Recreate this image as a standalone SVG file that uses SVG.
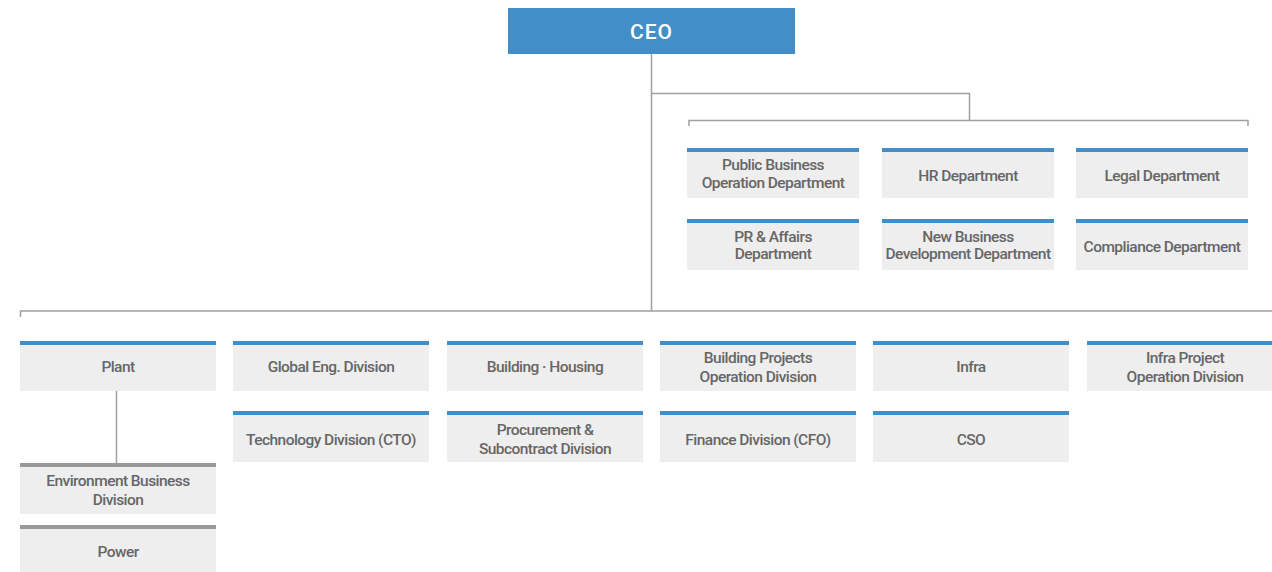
<svg xmlns="http://www.w3.org/2000/svg" width="1272" height="572" viewBox="0 0 1272 572">
<style>
.box{fill:#eeeeee}
.bar{fill:#428ec9}
.gbar{fill:#999999}
.t{font-family:Roboto,"Liberation Sans",sans-serif;font-size:15.5px;font-weight:500;fill:#666666;text-anchor:middle;dominant-baseline:central;letter-spacing:-0.55px}
.ln{stroke:#a0a0a0;stroke-width:1.5;fill:none}
</style>
<rect width="1272" height="572" fill="#ffffff"/>
<g id="connectors">
<path class="ln" d="M651.5,54 V311"/>
<path class="ln" d="M651.5,93.5 H969.5 V120.5"/>
<path class="ln" d="M689,126 V120.5 H1248 V126"/>
<path class="ln" d="M20.5,317 V311 H1272"/>
<path class="ln" d="M116.5,391 V463"/>
</g>
<g id="ceo">
<rect x="508" y="8" width="287" height="46" class="bar"/>
<text x="651.5" y="32" font-family="Roboto,'Liberation Sans',sans-serif" font-size="21" font-weight="500" fill="#ffffff" text-anchor="middle" dominant-baseline="central" letter-spacing="1">CEO</text>
</g>
<g id="public-business">
<rect x="687" y="148" width="172" height="50" class="box"/><rect x="687" y="148" width="172" height="4" class="bar"/>
<text class="t" x="773" y="165">Public Business</text><text class="t" x="773" y="183">Operation Department</text>
</g>
<g id="hr">
<rect x="882" y="148" width="172" height="50" class="box"/><rect x="882" y="148" width="172" height="4" class="bar"/>
<text class="t" x="968" y="176">HR Department</text>
</g>
<g id="legal">
<rect x="1076" y="148" width="172" height="50" class="box"/><rect x="1076" y="148" width="172" height="4" class="bar"/>
<text class="t" x="1162" y="176">Legal Department</text>
</g>
<g id="pr">
<rect x="687" y="219" width="172" height="51" class="box"/><rect x="687" y="219" width="172" height="4" class="bar"/>
<text class="t" x="773" y="237">PR &amp; Affairs</text><text class="t" x="773" y="254">Department</text>
</g>
<g id="new-business">
<rect x="882" y="219" width="172" height="51" class="box"/><rect x="882" y="219" width="172" height="4" class="bar"/>
<text class="t" x="968" y="237">New Business</text><text class="t" x="968" y="254">Development Department</text>
</g>
<g id="compliance">
<rect x="1076" y="219" width="172" height="51" class="box"/><rect x="1076" y="219" width="172" height="4" class="bar"/>
<text class="t" x="1162" y="247">Compliance Department</text>
</g>
<g id="plant">
<rect x="20" y="341" width="196" height="50" class="box"/><rect x="20" y="341" width="196" height="4" class="bar"/>
<text class="t" x="118" y="367">Plant</text>
</g>
<g id="global-eng">
<rect x="233" y="341" width="196" height="50" class="box"/><rect x="233" y="341" width="196" height="4" class="bar"/>
<text class="t" x="331" y="367">Global Eng. Division</text>
</g>
<g id="building-housing">
<rect x="447" y="341" width="196" height="50" class="box"/><rect x="447" y="341" width="196" height="4" class="bar"/>
<text class="t" x="545" y="367">Building · Housing</text>
</g>
<g id="building-projects">
<rect x="660" y="341" width="196" height="50" class="box"/><rect x="660" y="341" width="196" height="4" class="bar"/>
<text class="t" x="758" y="358">Building Projects</text><text class="t" x="758" y="377">Operation Division</text>
</g>
<g id="infra">
<rect x="873" y="341" width="196" height="50" class="box"/><rect x="873" y="341" width="196" height="4" class="bar"/>
<text class="t" x="971" y="367">Infra</text>
</g>
<g id="infra-project">
<rect x="1087" y="341" width="185" height="50" class="box"/><rect x="1087" y="341" width="185" height="4" class="bar"/>
<text class="t" x="1185" y="358">Infra Project</text><text class="t" x="1185" y="377">Operation Division</text>
</g>
<g id="technology">
<rect x="233" y="411" width="196" height="51" class="box"/><rect x="233" y="411" width="196" height="4" class="bar"/>
<text class="t" x="331" y="440">Technology Division (CTO)</text>
</g>
<g id="procurement">
<rect x="447" y="411" width="196" height="51" class="box"/><rect x="447" y="411" width="196" height="4" class="bar"/>
<text class="t" x="545" y="430">Procurement &amp;</text><text class="t" x="545" y="449">Subcontract Division</text>
</g>
<g id="finance">
<rect x="660" y="411" width="196" height="51" class="box"/><rect x="660" y="411" width="196" height="4" class="bar"/>
<text class="t" x="758" y="440">Finance Division (CFO)</text>
</g>
<g id="cso">
<rect x="873" y="411" width="196" height="51" class="box"/><rect x="873" y="411" width="196" height="4" class="bar"/>
<text class="t" x="971" y="440">CSO</text>
</g>
<g id="environment">
<rect x="20" y="463" width="196" height="51" class="box"/><rect x="20" y="463" width="196" height="4" class="gbar"/>
<text class="t" x="118" y="481">Environment Business</text><text class="t" x="118" y="500">Division</text>
</g>
<g id="power">
<rect x="20" y="525" width="196" height="47" class="box"/><rect x="20" y="525" width="196" height="4" class="gbar"/>
<text class="t" x="118" y="552">Power</text>
</g>
</svg>
